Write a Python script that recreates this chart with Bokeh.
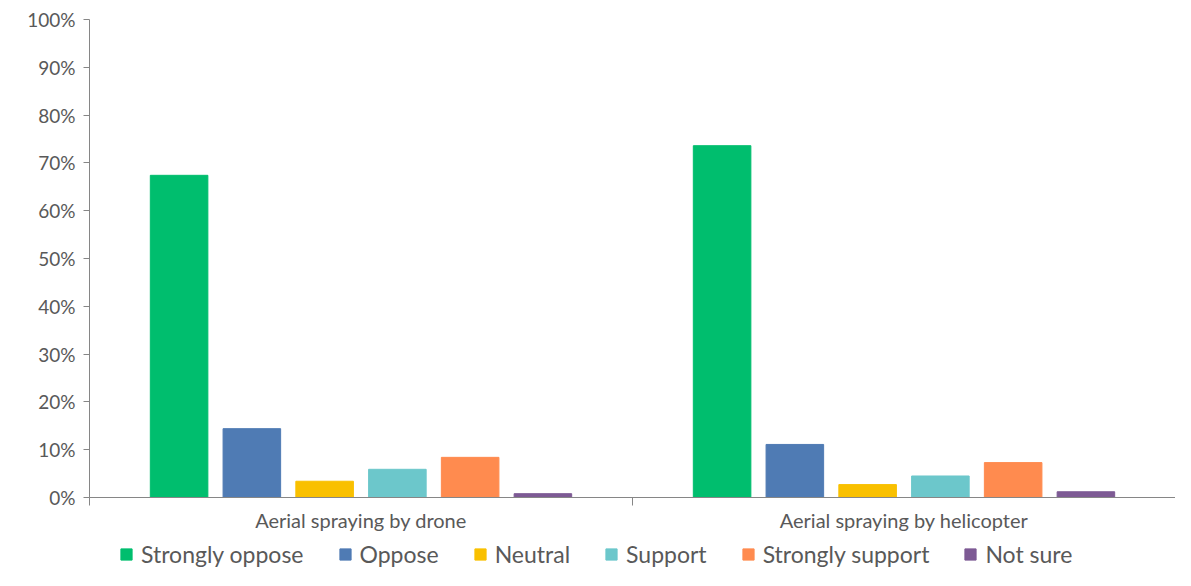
from bokeh.plotting import figure
from bokeh.models import Range1d, FixedTicker, LinearAxis, Legend, LegendItem, ColumnDataSource
from bokeh.layouts import column
from bokeh.embed import file_html
from bokeh.resources import INLINE

groups = ["Aerial spraying by drone", "Aerial spraying by helicopter"]
series = ["Strongly oppose", "Oppose", "Neutral", "Support", "Strongly support", "Not sure"]
colors = ["#00BE6E", "#4F7BB4", "#F9C000", "#6CC7CB", "#FF8B4F", "#7D5A94"]
values = {
    "Strongly oppose": [67.4, 73.6],
    "Oppose": [14.4, 11.1],
    "Neutral": [3.4, 2.7],
    "Support": [5.9, 4.5],
    "Strongly support": [8.4, 7.3],
    "Not sure": [0.8, 1.2],
}
y_ticks = list(range(0, 101, 10))

FONT = "Lato"
GRAY = "#595959"
AXIS = "#868686"

p = figure(width=1175, height=536, output_backend="svg", toolbar_location=None,
           x_range=Range1d(0, 2), y_range=Range1d(0, 100))
p.min_border_left = 89
p.min_border_right = 0
p.min_border_top = 19
p.min_border_bottom = 39
p.outline_line_color = None
p.xgrid.visible = False
p.ygrid.visible = False
p.xaxis.visible = False

# y axis
yax = p.yaxis[0]
yax.ticker = FixedTicker(ticks=y_ticks)
yax.major_label_overrides = {t: f"{t}%" for t in y_ticks}
yax.minor_tick_line_color = None
yax.major_tick_in = 0
yax.major_tick_out = 6
yax.axis_line_color = AXIS
yax.major_tick_line_color = AXIS
yax.major_label_text_font = FONT
yax.major_label_text_font_size = "19px"
yax.major_label_text_color = GRAY
yax.major_label_standoff = 8

# legend-only figure
pl = figure(width=1175, height=34, output_backend="svg", toolbar_location=None,
            x_range=Range1d(0, 2), y_range=Range1d(1000, 1001))
pl.min_border = 0
pl.outline_line_color = None
pl.axis.visible = False
pl.grid.visible = False

n = len(series)
pitch = 0.134
width = 0.106
items = []
for i, s in enumerate(series):
    xs = [g + 0.5 + (i - (n - 1) / 2) * pitch for g in range(len(groups))]
    src = ColumnDataSource(dict(x=xs, top=values[s]))
    p.vbar(x="x", top="top", width=width, bottom=0, source=src,
           fill_color=colors[i], line_color=colors[i])
    r2 = pl.vbar(x="x", top="top", width=width, bottom=0, source=src,
                 fill_color=colors[i], line_color=colors[i])
    items.append(LegendItem(label=s, renderers=[r2]))

xax = LinearAxis(ticker=FixedTicker(ticks=[0, 1, 2]))
xax.major_label_overrides = {0: "", 1: "", 2: ""}
xax.major_label_text_font_size = "1px"
xax.major_label_standoff = 0
xax.minor_tick_line_color = None
xax.major_tick_in = 0
xax.major_tick_out = 8
xax.axis_line_color = AXIS
xax.major_tick_line_color = AXIS
p.add_layout(xax, "below")

cax = LinearAxis(ticker=FixedTicker(ticks=[0.5, 1.5]))
cax.major_label_overrides = {0.5: groups[0], 1.5: groups[1]}
cax.axis_line_color = None
cax.major_tick_line_color = None
cax.minor_tick_line_color = None
cax.major_tick_out = 0
cax.major_label_text_font = FONT
cax.major_label_text_font_size = "20px"
cax.major_label_text_color = GRAY
cax.major_label_standoff = 2
p.add_layout(cax, "below")

legend = Legend(items=items, orientation="horizontal", location=(30, 2))
legend.label_text_font = FONT
legend.label_text_font_size = "23px"
legend.label_text_color = GRAY
legend.glyph_width = 14
legend.glyph_height = 14
legend.spacing = 34
legend.label_standoff = 8
legend.border_line_color = None
legend.background_fill_alpha = 0
legend.padding = 0
legend.margin = 0
pl.add_layout(legend, "center")

open("out.html", "w").write(file_html(column(p, pl), INLINE))
